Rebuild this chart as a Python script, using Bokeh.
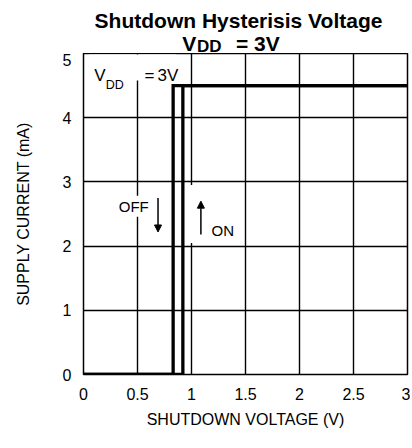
from bokeh.plotting import figure
from bokeh.layouts import column
from bokeh.models import Label, Arrow, NormalHead, BoxAnnotation, FixedTicker, Range1d
from bokeh.embed import file_html
from bokeh.resources import INLINE

# ---- data ----
shutdown_off_v = [0.0, 0.83, 0.83, 3.0]
current_off_ma = [0.0, 0.0, 4.5, 4.5]
shutdown_on_v = [0.0, 0.92, 0.92, 3.0]
current_on_ma = [0.0, 0.0, 4.5, 4.5]
x_ticks = [0, 0.5, 1, 1.5, 2, 2.5, 3]
x_tick_labels = ["0", "0.5", "1", "1.5", "2", "2.5", "3"]
y_ticks = [0, 1, 2, 3, 4, 5]
y_tick_labels = ["0", "1", "2", "3", "4", "5"]
off_arrow_x = [0.69, 0.69]
off_arrow_y = [2.75, 2.22]
on_arrow_x = [1.087, 1.087]
on_arrow_y = [2.18, 2.70]

TECH = "Liberation Sans"
BOLD = "Liberation Sans"

W = 410
TOP_H = 53
H = 379
FL, FR = 83, 407
FT, FB = 0, 321  # frame edges in main-figure px
XOFF, YOFF = 1, 8  # where the canvas sits on the page

# ---- title strip (coordinates are page pixels) ----
t = figure(width=W, height=TOP_H, title=None,
           x_range=Range1d(FL + XOFF, FR + XOFF), y_range=Range1d(YOFF + TOP_H, YOFF),
           output_backend="svg", toolbar_location=None,
           x_axis_location=None, y_axis_location=None,
           min_border_left=FL, min_border_right=W - FR, min_border_top=0, min_border_bottom=0)
t.outline_line_color = None
t.xgrid.visible = False
t.ygrid.visible = False
t.background_fill_color = "white"
t.border_fill_color = "white"


def tlab(x, y, text, size, align="left"):
    t.add_layout(Label(x=x, y=y, text=text, text_font=BOLD, text_font_size=size,
                       text_font_style="bold", text_align=align, text_baseline="alphabetic",
                       text_color="black"))


tlab(239, 28.3, "Shutdown Hysterisis Voltage", "21px", align="center")
tlab(182.7, 51.2, "V", "21px")
tlab(197.5, 54.3, "DD", "17px")
tlab(236.5, 51.2, "= 3V", "21px")

# ---- main chart ----
p = figure(width=W, height=H, x_range=Range1d(0, 3), y_range=Range1d(0, 5),
           output_backend="svg", toolbar_location=None,
           min_border_left=FL, min_border_right=W - FR,
           min_border_top=FT, min_border_bottom=H - FB)
p.background_fill_color = "white"
p.border_fill_color = "white"
p.outline_line_color = "black"
p.outline_line_width = 1.5

for ax in (p.xaxis[0], p.yaxis[0]):
    ax.axis_line_color = None
    ax.major_tick_line_color = None
    ax.minor_tick_line_color = None
    ax.major_tick_out = 0
    ax.major_tick_in = 0
    ax.major_label_text_font = TECH
    ax.major_label_text_font_size = "16px"
    ax.major_label_text_color = "black"
    ax.axis_label_text_font = TECH
    ax.axis_label_text_font_size = "16px"
    ax.axis_label_text_font_style = "normal"
    ax.axis_label_text_color = "black"

p.xaxis.ticker = FixedTicker(ticks=x_ticks)
p.xaxis.major_label_overrides = {tk: lb for tk, lb in zip(x_ticks, x_tick_labels)}
p.yaxis.ticker = FixedTicker(ticks=y_ticks)
p.yaxis.major_label_overrides = {tk: lb for tk, lb in zip(y_ticks, y_tick_labels)}
p.xaxis.axis_label = "SHUTDOWN VOLTAGE (V)"
p.yaxis.axis_label = "SUPPLY CURRENT (mA)"
p.xaxis.major_label_standoff = 13
p.yaxis.major_label_standoff = 12
p.xaxis.axis_label_standoff = 8
p.yaxis.axis_label_standoff = 28

p.xgrid.ticker = FixedTicker(ticks=x_ticks)
p.ygrid.ticker = FixedTicker(ticks=y_ticks)
for g in (p.xgrid[0], p.ygrid[0]):
    g.grid_line_color = "black"
    g.grid_line_width = 1.4

# white boxes that break the grid behind the annotations
p.add_layout(BoxAnnotation(left=0.05, right=0.86, top=4.985, bottom=4.58,
                           fill_color="white", fill_alpha=1, line_color=None))
p.add_layout(BoxAnnotation(left=0.96, right=1.44, top=2.95, bottom=2.05,
                           fill_color="white", fill_alpha=1, line_color=None))

p.line(shutdown_off_v, current_off_ma, line_color="black", line_width=3.3, line_join="miter")
p.line(shutdown_on_v, current_on_ma, line_color="black", line_width=3.3, line_join="miter")

p.add_layout(Arrow(x_start=off_arrow_x[0], y_start=off_arrow_y[0], x_end=off_arrow_x[1], y_end=off_arrow_y[1],
                   line_width=1.5, line_color="black",
                   end=NormalHead(size=7, fill_color="black", line_color="black", line_width=1)))
p.add_layout(Arrow(x_start=on_arrow_x[0], y_start=on_arrow_y[0], x_end=on_arrow_x[1], y_end=on_arrow_y[1],
                   line_width=1.5, line_color="black",
                   end=NormalHead(size=7, fill_color="black", line_color="black", line_width=1)))


def lab(x, y, text, size, align="left", baseline="alphabetic", bg=None):
    lb = Label(x=x, y=y, text=text, text_font=TECH, text_font_size=size,
               text_align=align, text_baseline=baseline, text_color="black")
    if bg:
        lb.background_fill_color = bg
        lb.padding = 2
    p.add_layout(lb)


lab(0.465, 2.62, "OFF", "15px", align="center", baseline="middle", bg="white")
lab(1.29, 2.25, "ON", "15px", align="center", baseline="middle")
# in-plot V_DD = 3V
lab(0.10, 4.66, "V", "17px")
lab(0.205, 4.51, "DD", "12.5px")
lab(0.565, 4.66, "=", "17px")
lab(0.685, 4.66, "3V", "17px")

layout = column(t, p, spacing=0)
open("out.html", "w").write(file_html(layout, INLINE))
